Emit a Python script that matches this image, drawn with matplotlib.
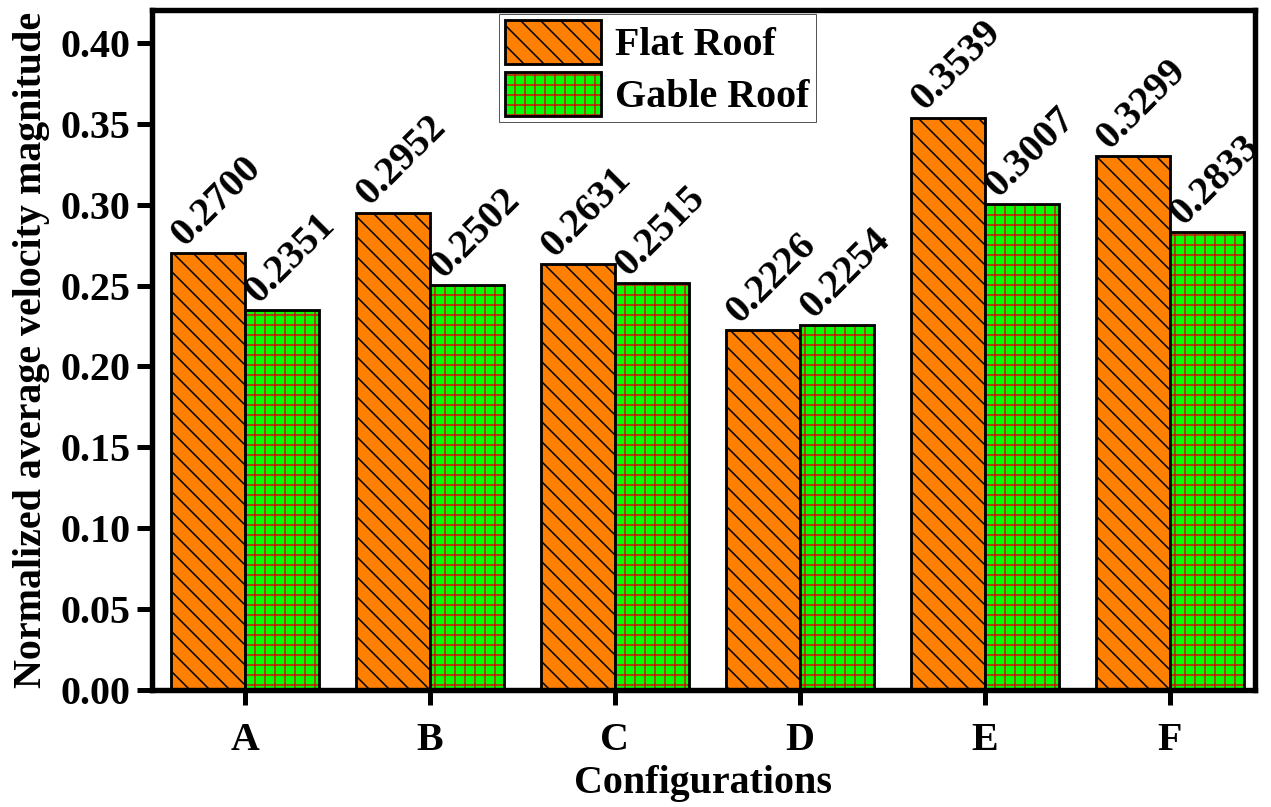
import numpy as np
import matplotlib.pyplot as plt

configs = ['A', 'B', 'C', 'D', 'E', 'F']
flat_roof = [0.2700, 0.2952, 0.2631, 0.2226, 0.3539, 0.3299]
gable_roof = [0.2351, 0.2502, 0.2515, 0.2254, 0.3007, 0.2833]
yticks = [0.00, 0.05, 0.10, 0.15, 0.20, 0.25, 0.30, 0.35, 0.40]

plt.rcParams['font.family'] = ['Liberation Serif', 'DejaVu Serif']
plt.rcParams['font.weight'] = 'bold'
plt.rcParams['hatch.linewidth'] = 1.8

# dpi 60 so the hatch spacing comes out close to the reference
dpi = 60
fig = plt.figure(figsize=(1271 / dpi, 807 / dpi), dpi=dpi)
ax = fig.add_axes([152 / 1271, 1 - 690 / 807, (1255 - 152) / 1271, (690 - 10) / 807])

x = np.arange(len(configs))
w = 0.4
orange = '#FF8000'
green = '#00FF00'
red = '#D01010'

bf = ax.bar(x - w / 2, flat_roof, w, color=orange, edgecolor='black',
            linewidth=3.4, hatch='\\', zorder=2)
bg_fill = ax.bar(x + w / 2, gable_roof, w, color=green, edgecolor=red,
                 linewidth=0, hatch='+', zorder=2)
bg_edge = ax.bar(x + w / 2, gable_roof, w, fill=False, edgecolor='black',
                 linewidth=3.4, zorder=3)

for xi, v in zip(x - w / 2, flat_roof):
    ax.annotate(f'{v:.4f}', (xi, v), xytext=(11, 62), textcoords='offset points',
                rotation=45, ha='center', va='center', fontsize=48, fontweight='bold')
for xi, v in zip(x + w / 2, gable_roof):
    ax.annotate(f'{v:.4f}', (xi, v), xytext=(11, 62), textcoords='offset points',
                rotation=45, ha='center', va='center', fontsize=48, fontweight='bold')

ax.set_xlim(-0.5, 5.46)
ax.set_ylim(0, 0.4204)
ax.set_xticks(x)
ax.set_xticklabels(configs)
ax.set_yticks(yticks)
ax.set_yticklabels([f'{t:.2f}' for t in yticks])
ax.tick_params(axis='both', direction='out', length=18, width=6, labelsize=48)
ax.tick_params(axis='x', pad=20)
ax.tick_params(axis='y', pad=8)
for s in ax.spines.values():
    s.set_linewidth(6.5)

ax.set_xlabel('Configurations', fontsize=48, fontweight='bold', labelpad=8)
ax.set_ylabel('Normalized average velocity magnitude', fontsize=48, fontweight='bold', labelpad=12)

leg = ax.legend([bf[0], (bg_fill[0], bg_edge[0])], ['Flat Roof', 'Gable Roof'],
                loc='upper left', bbox_to_anchor=(0.3146, 0.994), borderaxespad=0,
                fontsize=48, handlelength=2.4, handleheight=1.3, handletextpad=0.35,
                labelspacing=0.2, borderpad=0.15, fancybox=False, framealpha=1)
leg.get_frame().set_edgecolor('#555555')
leg.get_frame().set_linewidth(1.2)

fig.savefig('out.png', dpi=dpi)
